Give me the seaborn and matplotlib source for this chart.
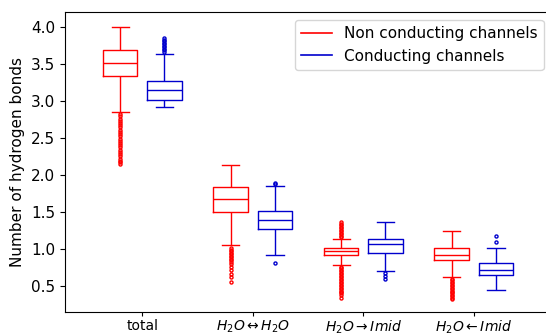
import seaborn as sns
import pandas as pd
import numpy as np
import matplotlib.pyplot as plt
from matplotlib.lines import Line2D

categories = ['total', 'H2O<->H2O', 'H2O->Imid', 'H2O<-Imid']
tick_labels = ['total', r'$H_2O \leftrightarrow H_2O$', r'$H_2O \rightarrow Imid$', r'$H_2O \leftarrow Imid$']
groups = ['Non conducting channels', 'Conducting channels']
colors = ['red', 'mediumblue']

# box statistics (per category)
red_lo = [2.85, 1.06, 0.78, 0.62]
red_q1 = [3.34, 1.505, 0.915, 0.85]
red_med = [3.51, 1.67, 0.97, 0.92]
red_q3 = [3.68, 1.83, 1.01, 1.01]
red_hi = [4.00, 2.13, 1.14, 1.24]
red_fliers = [
    [2.82, 2.79, 2.76, 2.73, 2.70, 2.67, 2.64, 2.61, 2.58, 2.55, 2.52, 2.49,
     2.46, 2.43, 2.40, 2.37, 2.34, 2.31, 2.28, 2.25, 2.22, 2.19, 2.17, 2.15],
    [1.01, 0.99, 0.97, 0.95, 0.93, 0.91, 0.89, 0.87, 0.85, 0.83, 0.80, 0.755,
     0.71, 0.665, 0.62, 0.55],
    [1.16, 1.18, 1.20, 1.22, 1.24, 1.26, 1.28, 1.30, 1.32, 1.34, 1.36,
     0.76, 0.74, 0.72, 0.70, 0.68, 0.66, 0.64, 0.62, 0.60, 0.58, 0.56, 0.54,
     0.52, 0.50, 0.48, 0.46, 0.44, 0.42, 0.40, 0.38, 0.34],
    [0.60, 0.58, 0.56, 0.54, 0.52, 0.50, 0.48, 0.46, 0.44, 0.42, 0.40, 0.38,
     0.36, 0.34, 0.33],
]

blue_lo = [2.92, 0.915, 0.70, 0.45]
blue_q1 = [3.005, 1.27, 0.95, 0.655]
blue_med = [3.14, 1.39, 1.07, 0.72]
blue_q3 = [3.26, 1.51, 1.13, 0.81]
blue_hi = [3.63, 1.855, 1.37, 1.01]
blue_fliers = [
    [3.66, 3.68, 3.70, 3.72, 3.74, 3.76, 3.78, 3.80, 3.82, 3.84],
    [1.88, 1.89, 0.81],
    [0.67, 0.63, 0.595],
    [1.09, 1.18],
]

# rebuild samples whose quartiles/whiskers equal the read values
rows = []
for g, lo, q1, med, q3, hi, fl in [
    (groups[0], red_lo, red_q1, red_med, red_q3, red_hi, red_fliers),
    (groups[1], blue_lo, blue_q1, blue_med, blue_q3, blue_hi, blue_fliers),
]:
    for i, cat in enumerate(categories):
        vals = [lo[i], hi[i]] + [q1[i]] * 200 + [med[i]] * 200 + [q3[i]] * 200 + fl[i]
        rows += [(cat, g, v) for v in vals]
df = pd.DataFrame(rows, columns=['kind', 'channel', 'hbonds'])

fig = plt.figure(figsize=(5.46, 3.36), dpi=100)
ax = fig.add_axes([0.119, 0.0705, 0.8905, 0.893])

sns.boxplot(data=df, x='kind', y='hbonds', hue='channel', order=categories,
            hue_order=groups, palette=colors, fill=False,
            gap=0.22, linewidth=1.0, fliersize=2.2,
            flierprops={'marker': 'o', 'markeredgewidth': 1.0}, legend=False, ax=ax)

ax.set_xlim(-0.7, 3.7)
ax.set_ylim(0.146, 4.193)
ax.set_xticks(range(4))
ax.set_xticklabels(tick_labels, fontsize=10)
ax.tick_params(axis='x', length=3, pad=1.5)
ax.tick_params(axis='y', labelsize=11)
ax.set_xlabel('')
ax.set_ylabel('Number of hydrogen bonds', fontsize=11)
ax.spines['right'].set_visible(False)

handles = [Line2D([], [], color=c, lw=1.2) for c in colors]
ax.legend(handles, groups, loc='upper right', fontsize=11)

fig.savefig('out.png', dpi=100)
